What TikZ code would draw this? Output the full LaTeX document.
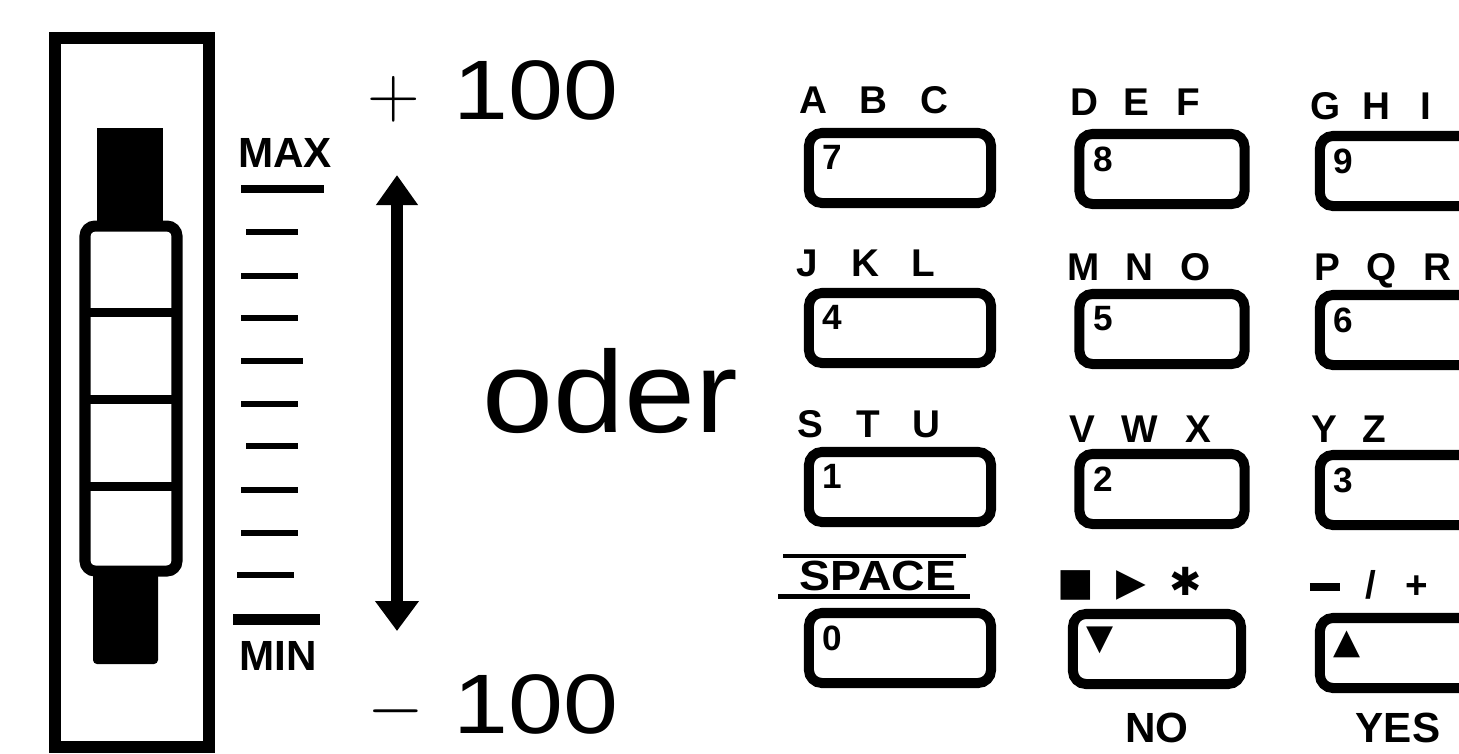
\documentclass[tikz,border=0pt]{standalone}
\usepackage{fontspec}
\usepackage{graphicx}
\setmainfont{Liberation Sans}
\newfontfamily\symfont{DejaVu Sans}
\usetikzlibrary{arrows.meta}
\newcommand{\trio}[4]{\makebox[#1]{#2}\makebox[#1]{#3}\makebox[#1]{#4}}
\begin{document}
\begin{tikzpicture}[x=0.01cm,y=-0.01cm,
  keybox/.style={draw,line width=0.1cm,rounded corners=0.13cm,inner sep=0pt,minimum height=0.70cm},
  keynum/.style={anchor=north west,inner sep=0pt,font=\bfseries\fontsize{10}{10}\selectfont},
  lbl/.style={anchor=base,inner sep=0pt,font=\bfseries\fontsize{11}{11}\selectfont},
  capt/.style={anchor=base,inner sep=0pt,font=\bfseries\fontsize{12}{12}\selectfont},
  big/.style={anchor=base,inner sep=0pt,font=\fontsize{24}{24}\selectfont},
  sign/.style={inner sep=0pt,font=\fontsize{22}{22}\selectfont},
  tick/.style={line width=0.06cm}]
\useasboundingbox (0,0) rectangle (1459,753);
\begin{scope}
\clip (0,0) rectangle (1459,753);
% slider frame
\draw[line width=0.12cm] (55,38) rectangle (209,747);
\fill (97,128) rectangle (163,230);
\fill[rounded corners=0.04cm] (93,565) rectangle (158,664);
\draw[line width=0.11cm,rounded corners=0.1cm,fill=white] (85,226) rectangle (177,571);
\foreach \yy in {312,399,486} \draw[line width=0.09cm] (85,\yy) -- (177,\yy);
% scale ticks
\draw[line width=0.08cm] (241,189) -- (324,189);
\foreach \yy/\xa/\xb in {232/246/298,276/241/298,318/241/298,361/241/303,404/241/298,446/246/298,490/241/298,533/241/298,575/237/294}
  \draw[tick] (\xa,\yy) -- (\xb,\yy);
\draw[line width=0.11cm] (233,619) -- (320,619);
\node[capt] (max) at (285,167) {MAX};
\node[capt] (min) at (278,670) {MIN};
% range
\node[sign] (plus) at (394,99) {$+$};
\node[big] (hi) at (536,119) {\scalebox{1.17}[1]{100}};
\node[sign] (minus) at (396,711) {$-$};
\node[big] (lo) at (536,733) {\scalebox{1.17}[1]{100}};
\coordinate (atop) at (397,175);
\coordinate (abot) at (397,631);
\draw[line width=0.12cm,{Triangle[width=0.4cm,length=0.3cm]}-{Triangle[width=0.42cm,length=0.3cm]}] (atop) -- (abot);
\node[anchor=base,inner sep=0pt,font=\fontsize{33}{33}\selectfont] (oder) at (610,432) {\scalebox{1.1}[1]{oder}};
% keypad labels
\node[lbl] (abc) at (874,113) {\trio{0.6cm}{A}{B}{C}};
\node[lbl] (def) at (1136,115) {\trio{0.52cm}{D}{E}{F}};
\node[lbl] (ghi) at (1376,119) {\trio{0.5cm}{G}{H}{I}};
\node[lbl] (jkl) at (865,276) {\trio{0.58cm}{J}{K}{L}};
\node[lbl] (mno) at (1140,280) {\trio{0.56cm}{M}{N}{O}};
\node[lbl] (pqr) at (1382,280) {\trio{0.55cm}{P}{Q}{R}};
\node[lbl] (stu) at (868,437) {\trio{0.58cm}{S}{T}{U}};
\node[lbl] (vwx) at (1140,442) {\trio{0.58cm}{V}{W}{X}};
\node[lbl] (yz) at (1349,442) {\makebox[0.5cm]{Y}\makebox[0.5cm]{Z}};
\node[lbl] (sym) at (1131,595) {\trio{0.55cm}{\symfont ■}{\symfont ▶}{\symfont ✱}};
\node[lbl] (pm) at (1371,598) {\trio{0.46cm}{\raisebox{0.075cm}{\rule{0.3cm}{0.075cm}}}{/}{+}};
\node[capt] (space) at (878,590) {\scalebox{1.1}[1]{SPACE}};
\draw[line width=0.04cm] (783,556) -- (966,556);
\draw[line width=0.05cm] (778,596) -- (970,596);
\node[capt] (no) at (1157,742) {NO};
\node[capt] (yes) at (1398,742) {YES};
% keys
\foreach \nm/\cx/\cy/\w/\lab in {7/900/168/1.82/7, 8/1162/169/1.65/8, 9/1420/171/2.0/9,
  4/900/328/1.82/4, 5/1162/329/1.65/5, 6/1420/330/2.0/6,
  1/900/487/1.82/1, 2/1162/489/1.65/2, 3/1420/490/2.0/3,
  0/900/648/1.82/0, d/1157/649/1.68/{\symfont ▼}, u/1420/653/2.0/{\symfont ▲}}{
  \node[keybox,minimum width=\w cm] (k\nm) at (\cx,\cy) {};
  \node[keynum] (n\nm) at ([xshift=0.18cm,yshift=-0.17cm]k\nm.north west) {\lab};
}
\end{scope}
\end{tikzpicture}
\end{document}
